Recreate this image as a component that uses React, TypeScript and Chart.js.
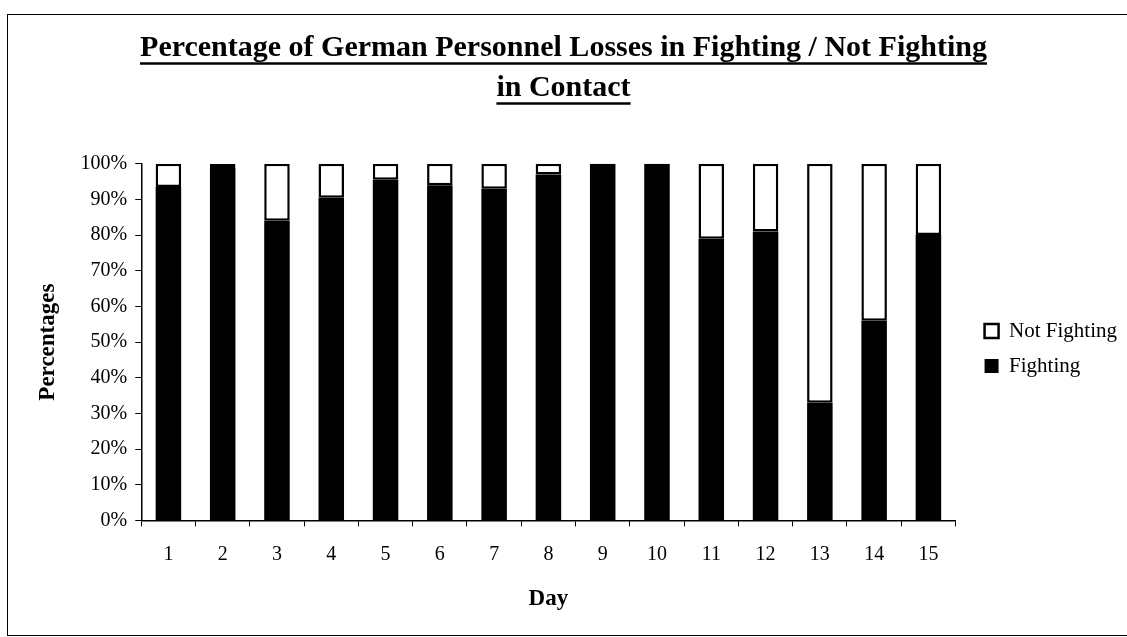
import React, { useEffect, useRef } from "react";
import { Chart, registerables } from "chart.js";

Chart.register(...registerables);

const days = ["1", "2", "3", "4", "5", "6", "7", "8", "9", "10", "11", "12", "13", "14", "15"];
const fighting = [93.5, 98.8, 84, 90.5, 95.5, 94, 93, 97, 100, 100, 79, 81, 33, 56, 80];
const notFighting = [6.5, 1.2, 16, 9.5, 4.5, 6, 7, 3, 0, 0, 21, 19, 67, 44, 20];
const titleLines = ["Percentage of German Personnel Losses in Fighting / Not Fighting", "in Contact"];

const FONT = '"Liberation Serif", "Times New Roman", serif';

const underlinePlugin = {
  id: "titleUnderline",
  afterDraw(chart: any) {
    const tb = chart.titleBlock;
    if (!tb) return;
    const opts = tb.options;
    const ctx = chart.ctx;
    const size = opts.font.size;
    const lh = size * opts.font.lineHeight;
    const padTop = typeof opts.padding === "object" ? opts.padding.top || 0 : opts.padding;
    ctx.save();
    ctx.font = `bold ${size}px ${FONT}`;
    ctx.strokeStyle = "#000";
    ctx.lineWidth = 2.5;
    const cx = (tb.left + tb.right) / 2;
    titleLines.forEach((line, i) => {
      const w = ctx.measureText(line).width;
      const y = tb.top + padTop + lh / 2 + i * lh + size * 0.52;
      ctx.beginPath();
      ctx.moveTo(cx - w / 2, y);
      ctx.lineTo(cx + w / 2, y);
      ctx.stroke();
    });
    ctx.restore();
  },
};

export default function App() {
  const ref = useRef<HTMLCanvasElement>(null);
  useEffect(() => {
    if (!ref.current) return;
    const chart = new Chart(ref.current, {
      type: "bar",
      data: {
        labels: days,
        datasets: [
          {
            label: "Fighting",
            data: fighting,
            backgroundColor: "#000",
            borderColor: "#000",
            borderWidth: 0,
            yAxisID: "y",
          },
          {
            label: "Not Fighting",
            data: notFighting,
            backgroundColor: "#fff",
            borderColor: "#000",
            borderWidth: 2.5,
            borderSkipped: false,
            yAxisID: "y",
          },
        ],
      },
      options: {
        animation: false,
        responsive: false,
        maintainAspectRatio: false,
        devicePixelRatio: 1,
        datasets: { bar: { categoryPercentage: 1, barPercentage: 0.47 } },
        layout: { padding: { top: 28, left: 0, right: 0, bottom: 20 } },
        plugins: {
          tooltip: { enabled: false },
          title: {
            display: true,
            text: titleLines,
            color: "#000",
            font: { family: FONT, size: 30, weight: "bold", lineHeight: 1.33 },
            padding: { top: 0, bottom: 56 },
          },
          legend: {
            display: true,
            position: "right",
            align: "center",
            reverse: true,
            title: { display: true, text: "", font: { size: 10, lineHeight: 5.2 }, padding: 0 },
            labels: {
              color: "#000",
              font: { family: FONT, size: 21 },
              boxWidth: 14,
              boxHeight: 14,
              padding: 14,
            },
          },
        },
        scales: {
          x: {
            stacked: true,
            offset: true,
            grid: {
              display: true,
              offset: true,
              drawOnChartArea: false,
              drawTicks: true,
              tickLength: 6,
              color: "#000",
              lineWidth: 1,
            },
            border: { display: true, color: "#000", width: 1.5 },
            ticks: { color: "#000", font: { family: FONT, size: 20 }, padding: 16, maxRotation: 0 },
            title: {
              display: true,
              text: "Day",
              color: "#000",
              font: { family: FONT, size: 23, weight: "bold", lineHeight: 1.2 },
              padding: { top: 3, bottom: 4 },
            },
          },
          y: {
            stacked: true,
            min: 0,
            max: 100,
            grid: {
              display: true,
              drawOnChartArea: false,
              drawTicks: true,
              tickLength: 6,
              color: "#000",
              lineWidth: 1,
            },
            border: { display: true, color: "#000", width: 1.5 },
            ticks: {
              stepSize: 10,
              color: "#000",
              font: { family: FONT, size: 20 },
              padding: 8,
              callback: (v: any) => `${v}%`,
            },
            title: {
              display: true,
              text: "Percentages",
              color: "#000",
              font: { family: FONT, size: 23, weight: "bold", lineHeight: 1.2 },
              padding: { top: 34, bottom: 11 },
            },
          },
          y2: {
            type: "linear",
            position: "right",
            display: true,
            grid: { display: false },
            border: { display: false },
            ticks: { display: false },
            afterFit: (s: any) => {
              s.width = 15;
            },
          },
        },
      } as any,
      plugins: [underlinePlugin],
    });
    return () => chart.destroy();
  }, []);

  return (
    <div style={{ position: "fixed", left: 0, top: 0, width: 1127, height: 637, overflow: "hidden", background: "#fff" }}>
      <canvas ref={ref} width={1127} height={637} style={{ position: "absolute", left: 0, top: 0, width: 1127, height: 637 }} />
      <div
        style={{
          position: "absolute",
          left: 7,
          top: 14,
          width: 1140,
          height: 622,
          borderLeft: "1.5px solid #000",
          borderTop: "1.5px solid #000",
          borderBottom: "1.5px solid #000",
          boxSizing: "border-box",
          pointerEvents: "none",
        }}
      />
    </div>
  );
}
